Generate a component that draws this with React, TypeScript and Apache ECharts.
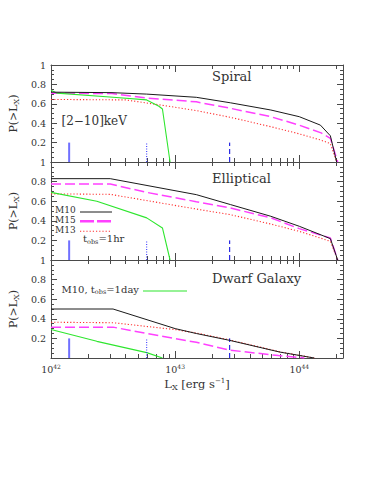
import React, { useEffect, useRef } from 'react';
import * as echarts from 'echarts';

// ---------- data ----------
const PANEL_TITLES = ['Spiral', 'Elliptical', 'Dwarf Galaxy'];

const X_MIN = 1e42;
const X_MAX = 2.25e44;
const X_MAJOR = [1e42, 1e43, 1e44];
const X_MINOR_MULT = [2, 3, 4, 5, 6, 7, 8, 9];
const X_DECADES = [1e42, 1e43, 1e44];

const Y_MIN = 0;
const Y_MAX = 1;
const Y_STEP = 0.2;

// Spiral
const SPIRAL_M10 = [[1e42, 0.72], [3.1e42, 0.715], [5.9e42, 0.7], [1.48e43, 0.667], [2.8e43, 0.61], [5.9e43, 0.536], [1e44, 0.467], [1.48e44, 0.38], [1.78e44, 0.27], [2.0e44, 0]];
const SPIRAL_M15 = [[1e42, 0.71], [3.1e42, 0.705], [5.9e42, 0.66], [1.48e43, 0.62], [2.8e43, 0.553], [5.9e43, 0.467], [1e44, 0.38], [1.5e44, 0.3], [1.78e44, 0.244], [2.04e44, 0]];
const SPIRAL_M13 = [[1e42, 0.645], [4e42, 0.64], [7.4e42, 0.59], [1.48e43, 0.53], [2.8e43, 0.46], [5.9e43, 0.364], [1e44, 0.29], [1.48e44, 0.227], [1.78e44, 0.19], [2.0e44, 0]];
const SPIRAL_M10_1DAY = [[1e42, 0.74], [1.12e42, 0.71], [3.16e42, 0.667], [5.9e42, 0.64], [7.4e42, 0.575], [7.9e42, 0.546], [9.1e42, 0]];

// Elliptical
const ELLIPTICAL_M10 = [[1e42, 0.83], [3.0e42, 0.83], [1.48e43, 0.667], [2.8e43, 0.565], [5.9e43, 0.446], [1e44, 0.344], [1.78e44, 0.218], [2.04e44, 0]];
const ELLIPTICAL_M15 = [[1e42, 0.775], [3.0e42, 0.775], [5.9e42, 0.69], [1.48e43, 0.595], [2.8e43, 0.53], [5.9e43, 0.43], [1e44, 0.32], [1.78e44, 0.225], [2.04e44, 0]];
const ELLIPTICAL_M13 = [[1e42, 0.675], [3.0e42, 0.67], [1.48e43, 0.52], [2.8e43, 0.462], [5.9e43, 0.367], [1e44, 0.292], [1.48e44, 0.224], [1.78e44, 0.19], [2.04e44, 0]];
const ELLIPTICAL_M10_1DAY = [[1e42, 0.69], [2.34e42, 0.6], [5.9e42, 0.43], [7.9e42, 0.327], [9.1e42, 0]];

// Dwarf Galaxy
const DWARF_M10 = [[1e42, 0.5], [3.16e42, 0.5], [1e43, 0.3], [1.48e43, 0.25], [2.75e43, 0.18], [7e43, 0.06], [1.32e44, 0]];
const DWARF_M15 = [[1e42, 0.315], [3.16e42, 0.315], [5.9e42, 0.25], [1.48e43, 0.16], [2.75e43, 0.08], [6.8e43, 0.025], [1.1e44, 0]];
const DWARF_M13 = [[1e42, 0.365], [3.16e42, 0.36], [1e43, 0.29], [1.48e43, 0.255], [2.75e43, 0.185], [7e43, 0.062], [1.32e44, 0]];
const DWARF_M10_1DAY = [[1e42, 0.29], [2.34e42, 0.17], [5.9e42, 0.055], [7.9e42, 0]];

const PANEL_DATA = [
  { m10: SPIRAL_M10, m15: SPIRAL_M15, m13: SPIRAL_M13, day: SPIRAL_M10_1DAY },
  { m10: ELLIPTICAL_M10, m15: ELLIPTICAL_M15, m13: ELLIPTICAL_M13, day: ELLIPTICAL_M10_1DAY },
  { m10: DWARF_M10, m15: DWARF_M15, m13: DWARF_M13, day: DWARF_M10_1DAY },
];

// vertical limit markers
const MARK_SOLID_X = 1.4e42;
const MARK_DOTTED_X = 5.9e42;
const MARK_DASHED_X = 2.75e43;
const MARK_TOP = 0.2;

// ---------- layout / style ----------
const FONT = 'DejaVu Serif';
const FRAME = '#4a4a4a';
const TEXT = '#333333';
const GRID_LEFT = 49;
const GRID_WIDTH = 294;
const GRID_TOPS = [65, 162, 260];
const GRID_HEIGHTS = [97, 98, 98];

const C_BLACK = '#1a1a1a';
const C_MAGENTA = '#ff40ff';
const C_RED = '#ff3030';
const C_GREEN = '#2ee62e';

function buildOption() {
  const xMinor: number[] = [];
  X_DECADES.forEach((d) => X_MINOR_MULT.forEach((m) => { const v = d * m; if (v <= X_MAX) xMinor.push(v); }));

  const grids = GRID_TOPS.map((top, i) => ({ left: GRID_LEFT, top, width: GRID_WIDTH, height: GRID_HEIGHTS[i] }));

  const xAxes: any[] = [];
  const yAxes: any[] = [];
  const series: any[] = [];

  GRID_TOPS.forEach((_, i) => {
    const isLast = i === GRID_TOPS.length - 1;
    const base = {
      type: 'log', logBase: 10, gridIndex: i, min: X_MIN, max: X_MAX,
      splitLine: { show: false }, minorSplitLine: { show: false },
    };
    (['bottom', 'top'] as const).forEach((pos) => {
      xAxes.push({
        ...base, position: pos,
        axisLine: { show: true, lineStyle: { color: FRAME, width: 1 } },
        axisTick: { show: true, inside: true, length: 7, customValues: X_MAJOR, lineStyle: { color: FRAME, width: 1 } },
        axisLabel: {
          show: pos === 'bottom' && isLast, customValues: X_MAJOR, margin: 5,
          formatter: (v: number) => `{b|10}{sup|${Math.round(Math.log10(v))}}`,
          rich: {
            b: { fontFamily: FONT, fontSize: 9.5, color: TEXT },
            sup: { fontFamily: FONT, fontSize: 6, color: TEXT, padding: [0, 0, 7, 0] },
          },
        },
        name: pos === 'bottom' && isLast ? 'L{s|X} [erg s{sup|−1}]' : '',
        nameLocation: 'middle', nameGap: 19,
        nameTextStyle: {
          fontFamily: FONT, fontSize: 11.5, color: TEXT,
          rich: {
            s: { fontFamily: FONT, fontSize: 8, color: TEXT, padding: [6, 0, 0, 0] },
            sup: { fontFamily: FONT, fontSize: 7, color: TEXT, padding: [0, 0, 7, 0] },
          },
        },
      });
      xAxes.push({
        ...base, position: pos,
        axisLine: { show: false },
        axisTick: { show: true, inside: true, length: 4, customValues: xMinor, lineStyle: { color: FRAME, width: 1 } },
        axisLabel: { show: false },
      });
    });

    (['left', 'right'] as const).forEach((pos) => {
      yAxes.push({
        type: 'value', gridIndex: i, position: pos, min: Y_MIN, max: Y_MAX, interval: Y_STEP,
        axisLine: { show: true, lineStyle: { color: FRAME, width: 1 } },
        axisTick: { show: true, inside: true, length: 6, lineStyle: { color: FRAME, width: 1 } },
        minorTick: { show: true, splitNumber: 4, length: 3, lineStyle: { color: FRAME, width: 1 } },
        splitLine: { show: false }, minorSplitLine: { show: false },
        axisLabel: {
          show: pos === 'left', margin: 5, fontFamily: FONT, fontSize: 9.5, color: TEXT,
          formatter: (v: number) => (v === 0 ? '' : v === 1 ? '1' : v.toFixed(1)),
        },
        name: pos === 'left' ? 'P(>L{s|X})' : '',
        nameLocation: 'middle', nameRotate: 90, nameGap: 25,
        nameTextStyle: {
          fontFamily: FONT, fontSize: 11, color: TEXT,
          rich: { s: { fontFamily: FONT, fontSize: 8, color: TEXT, padding: [5, 0, 0, 0] } },
        },
      });
    });

    const xi = i * 4;
    const yi = i * 2;
    const d = PANEL_DATA[i];
    const line = (name: string, data: number[][], lineStyle: any, z = 2) => ({
      type: 'line', name, xAxisIndex: xi, yAxisIndex: yi, data, symbol: 'none', showSymbol: false,
      lineStyle, z, silent: true,
    });
    series.push(line('M13', d.m13, { color: C_RED, width: 1.1, type: [1.2, 2] }));
    series.push(line('M15', d.m15, { color: C_MAGENTA, width: 1.5, type: [10, 4] }));
    series.push(line('M10', d.m10, { color: C_BLACK, width: 1 }, 3));
    series.push(line('M10 1day', d.day, { color: C_GREEN, width: 1.1 }));
    series.push(line('limit1', [[MARK_SOLID_X, 0], [MARK_SOLID_X, MARK_TOP]], { color: '#7070ff', width: 2 }));
    series.push(line('limit2', [[MARK_DOTTED_X, 0], [MARK_DOTTED_X, MARK_TOP]], { color: '#2a2aff', width: 1, type: [1, 1.5] }));
    series.push(line('limit3', [[MARK_DASHED_X, 0], [MARK_DASHED_X, MARK_TOP]], { color: '#0000dd', width: 1, type: [5, 3] }));
  });

  const titleY = [76.5, 178, 278.5];
  const txt = (x: number, y: number, text: string, fontSize: number, rich?: any) => ({
    type: 'text', x, y, silent: true,
    style: {
      text, fill: TEXT, fontFamily: FONT, fontSize,
      align: 'left', verticalAlign: 'middle', textAlign: 'left', textVerticalAlign: 'middle',
      rich,
    },
  });
  const subRich = (fs: number) => ({
    a: { fontFamily: FONT, fontSize: fs, fill: TEXT, color: TEXT },
    s: { fontFamily: FONT, fontSize: 6.5, fill: TEXT, color: TEXT, padding: [6, 0, 0, 0] },
  });
  const seg = (x1: number, y1: number, x2: number, y2: number, style: any) => ({
    type: 'line', silent: true, shape: { x1, y1, x2, y2 }, style,
  });

  const graphic: any[] = [
    ...PANEL_TITLES.map((t, i) => txt(212, titleY[i], t, 13)),
    txt(61.5, 121, '[2−10]keV', 12),
    txt(55, 209.5, 'M10', 9),
    seg(80, 212, 112, 212, { stroke: C_BLACK, lineWidth: 1 }),
    txt(55, 219.5, 'M15', 9),
    seg(80, 221.3, 112, 221.3, { stroke: C_MAGENTA, lineWidth: 2.5, lineDash: [14, 3] }),
    txt(55, 229.5, 'M13', 9),
    seg(80, 231.3, 112, 231.3, { stroke: C_RED, lineWidth: 1.1, lineDash: [1.2, 2] }),
    txt(83, 238.5, '{a|t}{s|obs}{a|=1hr}', 10, subRich(10)),
    txt(61.5, 289.3, '{a|M10, t}{s|obs}{a|=1day}', 10, subRich(10)),
    seg(143, 291, 187, 291, { stroke: C_GREEN, lineWidth: 1.1 }),
  ];

  return {
    animation: false,
    backgroundColor: '#ffffff',
    grid: grids,
    xAxis: xAxes,
    yAxis: yAxes,
    series,
    graphic: { elements: graphic },
  };
}

export default function App() {
  const ref = useRef<HTMLDivElement>(null);
  useEffect(() => {
    if (!ref.current) return;
    const chart = echarts.init(ref.current, null, { renderer: 'svg' });
    chart.setOption(buildOption() as any);
    return () => chart.dispose();
  }, []);
  return (
    <div
      ref={ref}
      style={{ position: 'absolute', left: 0, top: 0, width: 374, height: 484, background: '#ffffff' }}
    />
  );
}
